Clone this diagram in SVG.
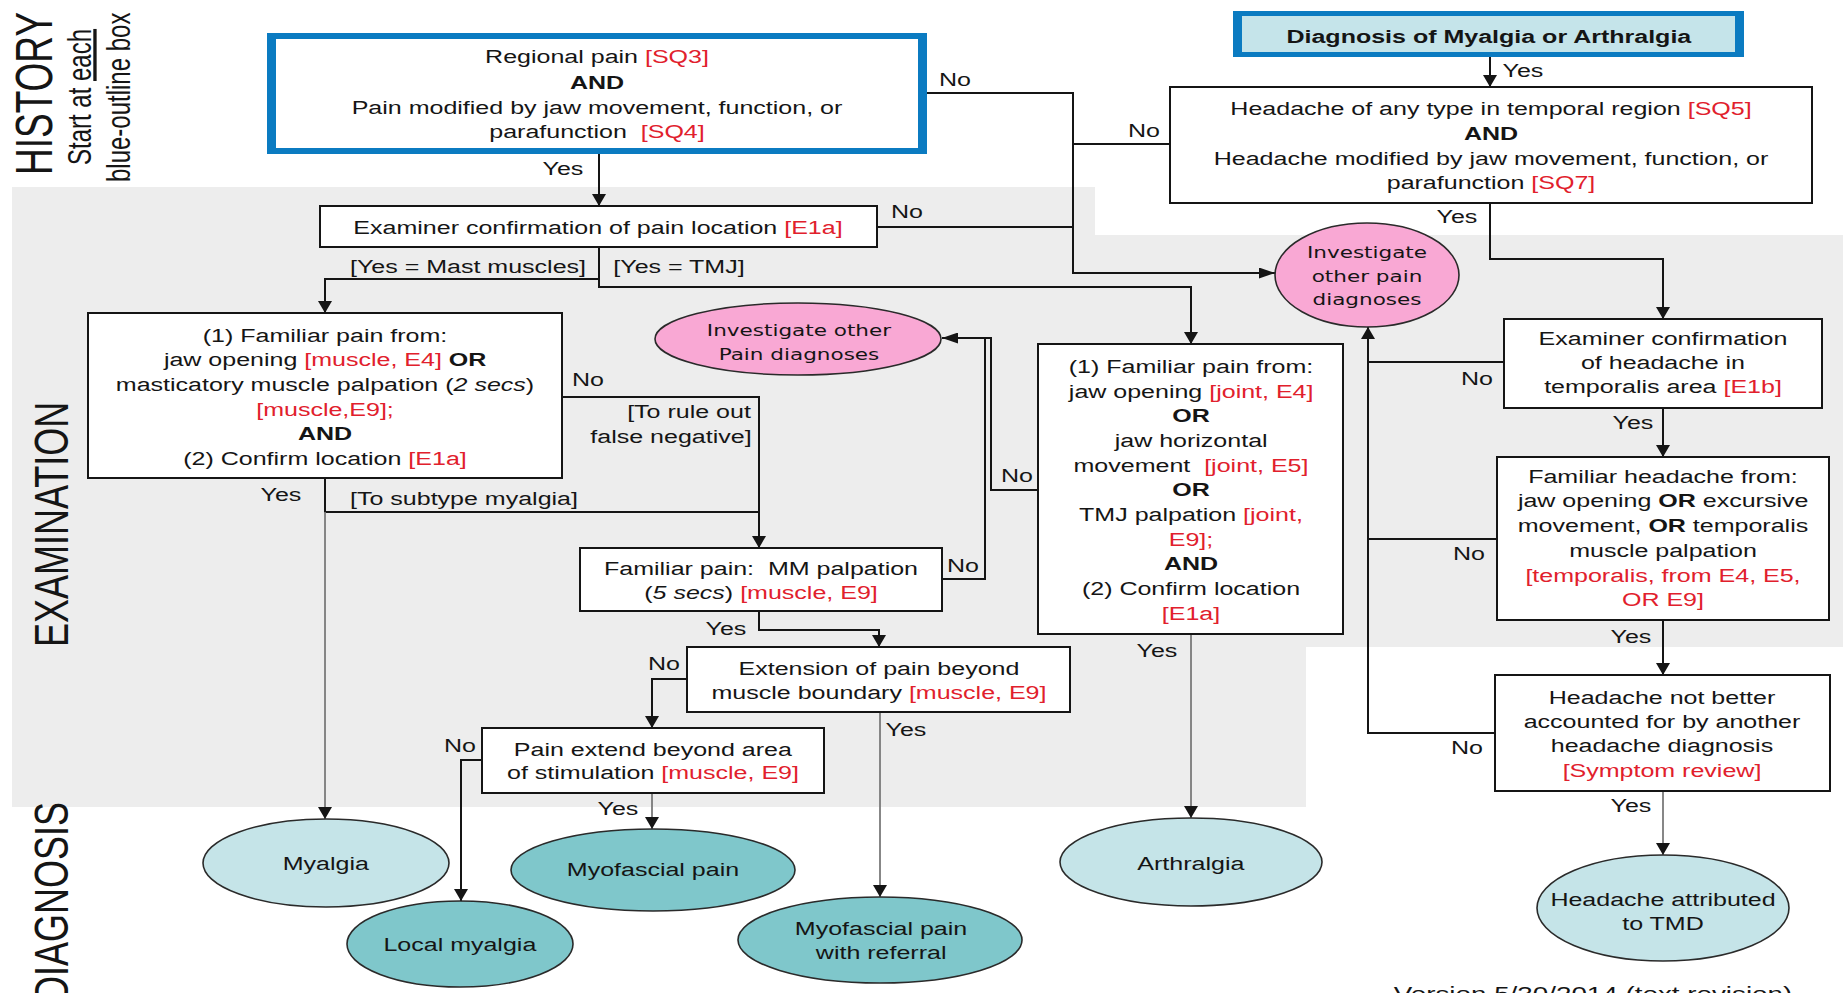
<svg xmlns="http://www.w3.org/2000/svg" width="1843" height="993" viewBox="0 0 1843 993">
<style>
  text { font-family: "Liberation Sans", Arial, Helvetica, sans-serif; font-size: 18px; fill: #151515; text-anchor: middle;
         transform: scaleX(1.39); transform-box: fill-box; transform-origin: center; }
  text.sec { transform: none; text-anchor: start; }
  .t37 { font-size: 37px; }
  .t36 { font-size: 36px; }
  .t24 { font-size: 24px; }
  .t20 { font-size: 20px; }
  .r { fill: #e1202c; }
  .b { font-weight: bold; }
  .i { font-style: italic; }
  .dv { font-family: "DejaVu Sans", Verdana, sans-serif; font-size: 15.5px; }
  .box { fill: #fff; stroke: #151515; stroke-width: 2; }
  .ln { fill: none; stroke: #151515; stroke-width: 2; }
  .lg { fill: none; stroke: #7a7a7a; stroke-width: 1.8; }
  .pink { fill: #f9a8d4; stroke: #2a2a2a; stroke-width: 1.6; }
  .light { fill: #c5e4e8; stroke: #2a2a2a; stroke-width: 1.6; }
  .teal { fill: #7fc7cb; stroke: #2a2a2a; stroke-width: 1.6; }
  .blue { fill: #0b7bc1; }
</style>
<defs>
  <marker id="ad" viewBox="0 0 12 14" refX="12" refY="7" markerWidth="12" markerHeight="14" markerUnits="userSpaceOnUse" orient="auto">
    <path d="M0,0 L12,7 L0,14 z" fill="#151515"/>
  </marker>
  <marker id="ah" viewBox="0 0 16 11" refX="16" refY="5.5" markerWidth="16" markerHeight="11" markerUnits="userSpaceOnUse" orient="auto">
    <path d="M0,0 L16,5.5 L0,11 z" fill="#151515"/>
  </marker>
</defs>

<rect width="1843" height="993" fill="#fff"/>

<!-- examination band -->
<polygon id="exam-band" points="12,187 1095,187 1095,235 1843,235 1843,647 1306,647 1306,807 12,807" fill="#ededed"/>

<!-- section titles -->
<g id="section-titles">
  <g transform="translate(52,175) scale(1.39,1) rotate(-90)"><text class="sec t37">HISTORY</text></g>
  <g transform="translate(91,165) scale(1.39,1) rotate(-90)"><text class="sec t24">Start at <tspan text-decoration="underline">each</tspan></text></g>
  <g transform="translate(130,182) scale(1.39,1) rotate(-90)"><text class="sec t24">blue-outline box</text></g>
  <g transform="translate(68,647) scale(1.32,1) rotate(-90)"><text class="sec t36">EXAMINATION</text></g>
  <g transform="translate(68,1002) scale(1.32,1) rotate(-90)"><text class="sec t36">DIAGNOSIS</text></g>
</g>

<!-- connectors -->
<g id="connectors">
  <path class="ln" d="M599,154 V206" marker-end="url(#ad)"/>
  <path class="ln" d="M1490,57 V87" marker-end="url(#ad)"/>
  <path class="ln" d="M927,93 H1073 V273 H1275" marker-end="url(#ah)"/>
  <path class="ln" d="M877,227 H1073"/>
  <path class="ln" d="M1170,144 H1073"/>
  <path class="ln" d="M599,247 V287 H1191 V344" marker-end="url(#ad)"/>
  <path class="ln" d="M599,279 H325 V313" marker-end="url(#ad)"/>
  <path class="ln" d="M562,397 H759 V548" marker-end="url(#ad)"/>
  <path class="ln" d="M325,478 V512 H759"/>
  <path class="lg" d="M325,512 V819" marker-end="url(#ad)"/>
  <path class="ln" d="M942,579 H985 V338"/>
  <path class="ln" d="M1038,490 H991 V338 H942" marker-end="url(#ah)"/>
  <path class="ln" d="M759,611 V630 H879 V647" marker-end="url(#ad)"/>
  <path class="ln" d="M687,679 H652 V728" marker-end="url(#ad)"/>
  <path class="lg" d="M880,712 V897" marker-end="url(#ad)"/>
  <path class="ln" d="M482,760 H461 V901" marker-end="url(#ad)"/>
  <path class="lg" d="M652,793 V829" marker-end="url(#ad)"/>
  <path class="lg" d="M1191,634 V818" marker-end="url(#ad)"/>
  <path class="ln" d="M1490,203 V259 H1663 V319" marker-end="url(#ad)"/>
  <path class="ln" d="M1663,408 V457" marker-end="url(#ad)"/>
  <path class="ln" d="M1663,620 V675" marker-end="url(#ad)"/>
  <path class="lg" d="M1663,791 V855" marker-end="url(#ad)"/>
  <path class="ln" d="M1504,362 H1368"/>
  <path class="ln" d="M1497,539 H1368"/>
  <path class="ln" d="M1495,733 H1368 V327" marker-end="url(#ad)"/>

  <!-- branch labels -->
  <text x="563" y="175">Yes</text>
  <text x="955" y="86">No</text>
  <text x="907" y="218">No</text>
  <text x="1144" y="137">No</text>
  <text x="1523" y="77">Yes</text>
  <text x="1457" y="223">Yes</text>
  <text x="468" y="273">[Yes = Mast muscles]</text>
  <text x="679" y="273">[Yes = TMJ]</text>
  <text x="588" y="386">No</text>
  <text x="689" y="418">[To rule out</text>
  <text x="671" y="443">false negative]</text>
  <text x="281" y="501">Yes</text>
  <text x="464" y="505">[To subtype myalgia]</text>
  <text x="963" y="572">No</text>
  <text x="1017" y="482">No</text>
  <text x="726" y="635">Yes</text>
  <text x="664" y="670">No</text>
  <text x="906" y="736">Yes</text>
  <text x="460" y="752">No</text>
  <text x="618" y="815">Yes</text>
  <text x="1157" y="657">Yes</text>
  <text x="1477" y="385">No</text>
  <text x="1633" y="429">Yes</text>
  <text x="1469" y="560">No</text>
  <text x="1631" y="643">Yes</text>
  <text x="1467" y="754">No</text>
  <text x="1631" y="812">Yes</text>
</g>

<!-- history nodes -->
<g id="regional-pain">
  <rect class="blue" x="267" y="33" width="660" height="121"/>
  <rect x="276" y="39" width="642" height="109" fill="#fff"/>
  <text x="597" y="63">Regional pain <tspan class="r">[SQ3]</tspan></text>
  <text x="597" y="89" class="b">AND</text>
  <text x="597" y="114">Pain modified by jaw movement, function, or</text>
  <text x="597" y="138">parafunction&#160; <tspan class="r">[SQ4]</tspan></text>
</g>

<g id="diagnosis-myalgia-arthralgia">
  <rect class="blue" x="1233" y="11" width="511" height="46"/>
  <rect x="1242" y="16" width="493" height="36" fill="#c5e4ea"/>
  <text x="1489" y="43" class="b">Diagnosis of Myalgia or Arthralgia</text>
</g>

<g id="headache-temporal">
  <rect class="box" x="1170" y="87" width="642" height="116"/>
  <text x="1491" y="115">Headache of any type in temporal region <tspan class="r">[SQ5]</tspan></text>
  <text x="1491" y="140" class="b">AND</text>
  <text x="1491" y="165">Headache modified by jaw movement, function, or</text>
  <text x="1491" y="189">parafunction <tspan class="r">[SQ7]</tspan></text>
</g>

<!-- examination nodes -->
<g id="examiner-pain-location">
  <rect class="box" x="320" y="206" width="557" height="41"/>
  <text x="598" y="234">Examiner confirmation of pain location <tspan class="r">[E1a]</tspan></text>
</g>

<g id="investigate-right">
  <ellipse class="pink" cx="1367" cy="275" rx="92" ry="52"/>
  <text class="dv" x="1367" y="258">Investigate</text>
  <text class="dv" x="1367" y="282">other pain</text>
  <text class="dv" x="1367" y="305">diagnoses</text>
</g>

<g id="muscle-familiar-pain">
  <rect class="box" x="88" y="313" width="474" height="165"/>
  <text x="325" y="342">(1) Familiar pain from:</text>
  <text x="325" y="366">jaw opening <tspan class="r">[muscle, E4]</tspan> <tspan class="b">OR</tspan></text>
  <text x="325" y="391">masticatory muscle palpation (<tspan class="i">2 secs</tspan>)</text>
  <text x="325" y="416" class="r">[muscle,E9];</text>
  <text x="325" y="440" class="b">AND</text>
  <text x="325" y="465">(2) Confirm location <tspan class="r">[E1a]</tspan></text>
</g>

<g id="investigate-left">
  <ellipse class="pink" cx="798" cy="339" rx="143" ry="36"/>
  <text class="dv" x="799" y="336">Investigate other</text>
  <text class="dv" x="799" y="360">Pain diagnoses</text>
</g>

<g id="mm-palpation">
  <rect class="box" x="580" y="548" width="362" height="63"/>
  <text x="761" y="575">Familiar pain:&#160; MM palpation</text>
  <text x="761" y="599">(<tspan class="i">5 secs</tspan>) <tspan class="r">[muscle, E9]</tspan></text>
</g>

<g id="joint-familiar-pain">
  <rect class="box" x="1038" y="344" width="305" height="290"/>
  <text x="1191" y="373">(1) Familiar pain from:</text>
  <text x="1191" y="398">jaw opening <tspan class="r">[joint, E4]</tspan></text>
  <text x="1191" y="422" class="b">OR</text>
  <text x="1191" y="447">jaw horizontal</text>
  <text x="1191" y="472">movement&#160; <tspan class="r">[joint, E5]</tspan></text>
  <text x="1191" y="496" class="b">OR</text>
  <text x="1191" y="521">TMJ palpation <tspan class="r">[joint,</tspan></text>
  <text x="1191" y="546" class="r">E9];</text>
  <text x="1191" y="570" class="b">AND</text>
  <text x="1191" y="595">(2) Confirm location</text>
  <text x="1191" y="620" class="r">[E1a]</text>
</g>

<g id="extension-beyond-muscle">
  <rect class="box" x="687" y="647" width="383" height="65"/>
  <text x="879" y="675">Extension of pain beyond</text>
  <text x="879" y="699">muscle boundary <tspan class="r">[muscle, E9]</tspan></text>
</g>

<g id="extend-beyond-stimulation">
  <rect class="box" x="482" y="728" width="342" height="65"/>
  <text x="653" y="756">Pain extend beyond area</text>
  <text x="653" y="779">of stimulation <tspan class="r">[muscle, E9]</tspan></text>
</g>

<g id="examiner-headache">
  <rect class="box" x="1504" y="319" width="318" height="89"/>
  <text x="1663" y="345">Examiner confirmation</text>
  <text x="1663" y="369">of headache in</text>
  <text x="1663" y="393">temporalis area <tspan class="r">[E1b]</tspan></text>
</g>

<g id="familiar-headache">
  <rect class="box" x="1497" y="457" width="332" height="163"/>
  <text x="1663" y="483">Familiar headache from:</text>
  <text x="1663" y="507">jaw opening <tspan class="b">OR</tspan> excursive</text>
  <text x="1663" y="532">movement, <tspan class="b">OR</tspan> temporalis</text>
  <text x="1663" y="557">muscle palpation</text>
  <text x="1663" y="582" class="r">[temporalis, from E4, E5,</text>
  <text x="1663" y="606" class="r">OR E9]</text>
</g>

<g id="headache-not-better">
  <rect class="box" x="1495" y="675" width="335" height="116"/>
  <text x="1662" y="704">Headache not better</text>
  <text x="1662" y="728">accounted for by another</text>
  <text x="1662" y="752">headache diagnosis</text>
  <text x="1662" y="777" class="r">[Symptom review]</text>
</g>

<!-- diagnosis nodes -->
<g id="myalgia">
  <ellipse class="light" cx="326" cy="863" rx="123" ry="44"/>
  <text x="326" y="870">Myalgia</text>
</g>
<g id="local-myalgia">
  <ellipse class="teal" cx="460" cy="944" rx="113" ry="43"/>
  <text x="460" y="951">Local myalgia</text>
</g>
<g id="myofascial-pain">
  <ellipse class="teal" cx="653" cy="870" rx="142" ry="41"/>
  <text x="653" y="876">Myofascial pain</text>
</g>
<g id="myofascial-referral">
  <ellipse class="teal" cx="880" cy="940" rx="142" ry="43"/>
  <text x="881" y="935">Myofascial pain</text>
  <text x="881" y="959">with referral</text>
</g>
<g id="arthralgia">
  <ellipse class="light" cx="1191" cy="862" rx="131" ry="44"/>
  <text x="1191" y="870">Arthralgia</text>
</g>
<g id="headache-tmd">
  <ellipse class="light" cx="1663" cy="908" rx="126" ry="53"/>
  <text x="1663" y="906">Headache attributed</text>
  <text x="1663" y="930">to TMD</text>
</g>

<text class="t20" x="1593" y="1001">Version 5/30/2014 (text revision)</text>
</svg>
